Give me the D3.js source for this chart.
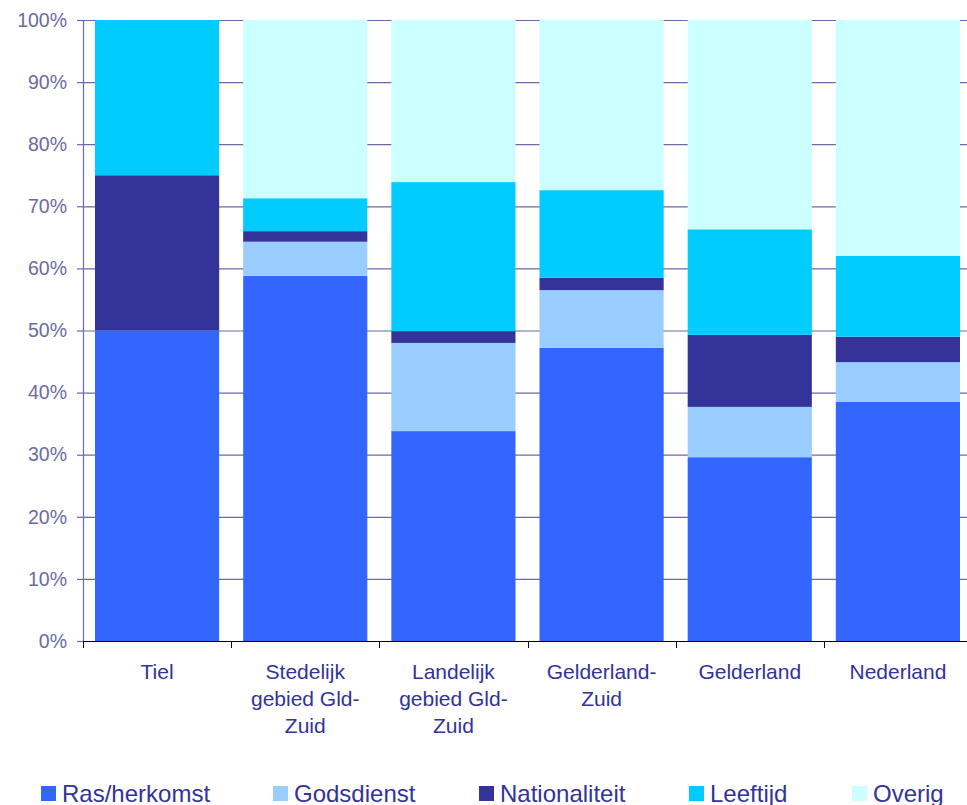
<!DOCTYPE html>
<html>
<head>
<meta charset="utf-8">
<script src="https://cdn.jsdelivr.net/npm/d3@7"></script>
<style>
  body { margin: 0; background: #fff; }
  svg { display: block; font-family: "Liberation Sans", Arial, sans-serif; }
</style>
</head>
<body>
<svg id="chart" width="967" height="805"></svg>
<script>
// categories and series (percent shares per region)
let regions = ["Tiel", "Stedelijk gebied Gld-Zuid", "Landelijk gebied Gld-Zuid", "Gelderland-Zuid", "Gelderland", "Nederland"];
// label lines as they wrap in the original
let regionLines = [["Tiel"], ["Stedelijk", "gebied Gld-", "Zuid"], ["Landelijk", "gebied Gld-", "Zuid"], ["Gelderland-", "Zuid"], ["Gelderland"], ["Nederland"]];
let seriesNames = ["Ras/herkomst", "Godsdienst", "Nationaliteit", "Leeftijd", "Overig"];
let rasHerkomst = [50.0, 58.8, 33.8, 47.2, 29.6, 38.5];
let godsdienst = [0.0, 5.5, 14.2, 9.3, 8.1, 6.4];
let nationaliteit = [25.0, 1.7, 1.9, 2.0, 11.6, 4.1];
let leeftijd = [25.0, 5.3, 24.0, 14.1, 17.0, 13.0];
let overig = [0.0, 28.7, 26.1, 27.4, 33.7, 38.0];
let yTicks = [0, 10, 20, 30, 40, 50, 60, 70, 80, 90, 100];

let seriesValues = [rasHerkomst, godsdienst, nationaliteit, leeftijd, overig];
let colors = ["#3366ff", "#99ccff", "#333399", "#00ccff", "#ccffff"];

let svg = d3.select("#chart");
let margin = {top: 20, right: -5, bottom: 164, left: 83};
let width = +svg.attr("width") - margin.left - margin.right;
let height = +svg.attr("height") - margin.top - margin.bottom;

let g = svg.append("g").attr("transform", `translate(${margin.left}, ${margin.top})`);

let x = d3.scaleBand().domain(regions).range([0, width]).paddingInner(0.162).paddingOuter(0.081);
let y = d3.scaleLinear().domain([0, 100]).range([height, 0]);
let z = d3.scaleOrdinal().domain(seriesNames).range(colors);

// table for the stack layout
let table = regions.map((r, i) => {
    let row = {region: r};
    seriesNames.forEach((s, j) => row[s] = seriesValues[j][i]);
    return row;
});
let stacked = d3.stack().keys(seriesNames)(table);

// gridlines
g.append("g")
    .selectAll("line")
    .data(yTicks.filter(t => t > 0))
    .enter().append("line")
    .attr("x1", 0).attr("x2", width)
    .attr("y1", d => y(d) + 0.5).attr("y2", d => y(d) + 0.5)
    .attr("stroke", "#6a6aa6")
    .attr("stroke-width", 1.2);

// bars
g.append("g")
    .selectAll("g")
    .data(stacked)
    .enter().append("g")
    .attr("fill", d => z(d.key))
    .selectAll("rect")
    .data(d => d)
    .enter().append("rect")
    .attr("x", d => x(d.data.region))
    .attr("y", d => y(d[1]))
    .attr("height", d => y(d[0]) - y(d[1]))
    .attr("width", x.bandwidth());

// y axis
let yAxis = g.append("g")
    .call(d3.axisLeft(y).tickValues(yTicks).tickFormat(d => d + "%").tickSize(6).tickSizeOuter(0));
yAxis.select(".domain").attr("stroke", "#6a6aa6").attr("stroke-width", 1.2);
yAxis.selectAll(".tick line").attr("stroke", "#6a6aa6").attr("stroke-width", 1.2);
yAxis.selectAll(".tick text")
    .attr("x", -16)
    .attr("font-size", 19.5)
    .attr("font-family", "Liberation Sans, Arial, sans-serif")
    .attr("fill", "#6b6b9e");

// x axis, ticks at band boundaries
let step = x.step();
let xAxis = g.append("g").attr("transform", `translate(0, ${height})`);
xAxis.append("line")
    .attr("x1", 0).attr("x2", width)
    .attr("y1", 0.5).attr("y2", 0.5)
    .attr("stroke", "#000").attr("stroke-width", 1.2);
xAxis.selectAll("line.tick")
    .data(d3.range(regions.length + 1))
    .enter().append("line")
    .attr("class", "tick")
    .attr("x1", i => Math.round(x(regions[0]) - x.step() * x.paddingInner() / 2 + i * step) + 0.5)
    .attr("x2", i => Math.round(x(regions[0]) - x.step() * x.paddingInner() / 2 + i * step) + 0.5)
    .attr("y1", 0).attr("y2", 7)
    .attr("stroke", "#000");
let labels = xAxis.selectAll("text")
    .data(regions)
    .enter().append("text")
    .attr("text-anchor", "middle")
    .attr("font-size", 21)
    .attr("fill", "#333399")
    .attr("transform", d => `translate(${x(d) + x.bandwidth() / 2}, 38)`);
labels.selectAll("tspan")
    .data((d, i) => regionLines[i])
    .enter().append("tspan")
    .attr("x", 0)
    .attr("dy", (d, i) => i === 0 ? 0 : 27)
    .text(d => d);

// legend
let legendX = [41, 273, 479, 689, 852];
let legend = svg.append("g").attr("transform", "translate(0, 786)");
let items = legend.selectAll("g")
    .data(seriesNames)
    .enter().append("g")
    .attr("transform", (d, i) => `translate(${legendX[i]}, 0)`);
items.append("rect")
    .attr("width", 15).attr("height", 15)
    .attr("fill", d => z(d));
items.append("text")
    .attr("x", 21)
    .attr("y", 16)
    .attr("font-size", 24)
    .attr("fill", "#333399")
    .text(d => d);
</script>
</body>
</html>
